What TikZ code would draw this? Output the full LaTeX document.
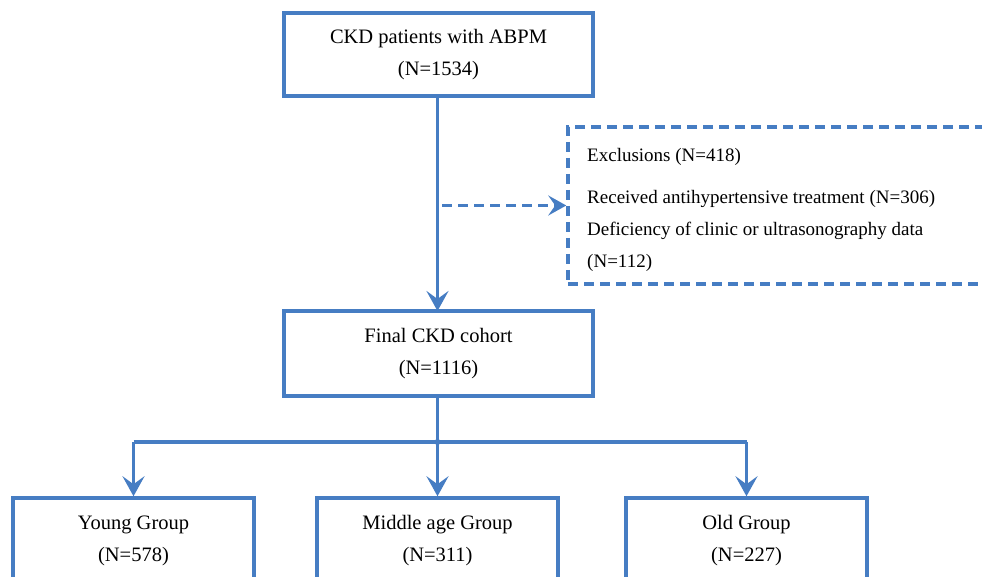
\documentclass[tikz,border=0pt]{standalone}
\usepackage{fontspec}
\setmainfont{Liberation Serif}
\usetikzlibrary{arrows.meta}
\definecolor{flowblue}{RGB}{70,125,195}
\tikzset{
  box/.style={draw=flowblue, line width=3.5pt, fill=white, align=center, inner sep=0pt,
    font=\fontsize{20.5}{32}\selectfont},
  exclbox/.style={draw=flowblue, line width=3.5pt, dash pattern=on 10pt off 6pt, inner sep=0pt},
  flow/.style={draw=flowblue, line width=3.5pt, -{Stealth[length=20pt,width=22pt,inset=8pt]}},
  dflow/.style={draw=flowblue, line width=3.5pt, dash pattern=on 10pt off 6pt,
    -{Stealth[length=18pt,width=20pt,inset=7pt]}},
  link/.style={draw=flowblue, line width=3.5pt},
  txt/.style={align=left, inner sep=0pt, font=\fontsize{19}{32}\selectfont}
}
\begin{document}
\begin{tikzpicture}[x=1pt,y=-1pt]
\useasboundingbox (0,0) rectangle (982,577);
\clip (0,0) rectangle (982,577);
\fill[white] (0,0) rectangle (982,577);

\node[box, minimum width=309pt, minimum height=83pt] (top) at (438.5,54.5)
  {CKD patients with ABPM\\(N=1534)};
\node[box, minimum width=309pt, minimum height=85pt] (final) at (438.5,353.5)
  {Final CKD cohort\\(N=1116)};
\node[exclbox, minimum width=450pt, minimum height=157pt] (excl) at (793,205.5) {};
\node[txt, anchor=west] (excltxt) at (587,209.5)
  {Exclusions (N=418)\\[10pt]Received antihypertensive treatment (N=306)\\Deficiency of clinic or ultrasonography data\\(N=112)};

\node[box, minimum width=241pt, minimum height=86pt] (young) at (133.5,541) {Young Group\\(N=578)};
\node[box, minimum width=241pt, minimum height=86pt] (middle) at (437.5,541) {Middle age Group\\(N=311)};
\node[box, minimum width=241pt, minimum height=86pt] (old) at (746.5,541) {Old Group\\(N=227)};

\coordinate (d0) at (442,205.5);
\coordinate (j) at (437.5,442);
\coordinate (jl) at (133.5,442);
\coordinate (jr) at (746.5,442);
\coordinate (a0) at (437.5,96);
\coordinate (a1) at (437.5,311);

\draw[flow] (a0) -- (a1);
\draw[dflow] (d0) -- (excl.west);

\draw[link] (final.south -| j) -- (j);
\draw[link] (jl) -- (jr);
\fill[flowblue] (j) circle (3pt);
\draw[flow] (jl) -- (young.north);
\draw[flow] (j) -- (middle.north);
\draw[flow] (jr) -- (old.north);
\end{tikzpicture}
\end{document}
